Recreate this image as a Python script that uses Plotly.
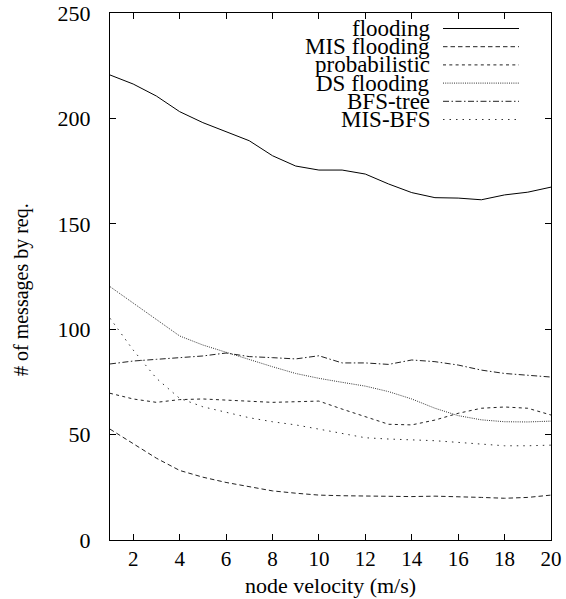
import plotly.graph_objects as go

velocity = list(range(1, 21))
flooding = [220.6, 216.3, 210.6, 203.2, 198.0, 193.7, 189.4, 182.3, 177.4, 175.5,
            175.5, 173.6, 168.9, 164.8, 162.4, 162.2, 161.4, 163.7, 165.0, 167.4]
mis_flooding = [52.6, 45.5, 38.8, 33.0, 29.8, 27.3, 25.2, 23.3, 22.2, 21.3,
                21.0, 20.8, 20.6, 20.6, 20.8, 20.6, 20.2, 19.8, 20.2, 21.3]
probabilistic = [69.6, 66.9, 65.3, 66.6, 66.9, 66.4, 65.9, 65.3, 65.6, 65.9,
                 62.1, 58.5, 54.9, 54.6, 56.9, 60.1, 62.5, 63.1, 62.5, 59.3]
ds_flooding = [120.2, 112.5, 104.5, 96.8, 92.5, 89.0, 85.5, 82.2, 79.0, 76.7,
               74.8, 73.0, 70.4, 66.9, 62.5, 59.0, 57.0, 56.1, 56.0, 56.4]
bfs_tree = [83.5, 84.9, 85.7, 86.5, 87.3, 88.7, 87.0, 86.5, 85.9, 87.4,
            84.0, 84.0, 83.3, 85.4, 84.6, 83.0, 80.6, 79.0, 78.0, 77.3]
mis_bfs = [105.2, 90.1, 76.7, 67.2, 63.2, 60.6, 58.0, 56.1, 54.6, 52.6,
           50.6, 48.5, 47.9, 47.6, 47.1, 46.3, 45.5, 44.7, 44.7, 45.0]

series_names = ["flooding", "MIS flooding", "probabilistic", "DS flooding", "BFS-tree", "MIS-BFS"]
series_values = [flooding, mis_flooding, probabilistic, ds_flooding, bfs_tree, mis_bfs]
x_ticks = [2, 4, 6, 8, 10, 12, 14, 16, 18, 20]
y_ticks = [0, 50, 100, 150, 200, 250]

dashes = ["solid", "4.5px,3px", "3px,3.3px", "1px,1.2px", "6px,2.5px,1.5px,2.5px", "1.5px,5px"]
colors = ["#000000", "#222222", "#222222", "#333333", "#222222", "#333333"]

FONT = "Liberation Serif, Times New Roman, serif"

fig = go.Figure()
for name, vals, dash, col in zip(series_names, series_values, dashes, colors):
    fig.add_trace(go.Scatter(x=velocity, y=vals, mode="lines", name=name,
                             line=dict(color=col, width=1, dash=dash),
                             showlegend=False))

# manual legend (gnuplot style): right-aligned text + line sample
L, R, T, B = 110, 551, 13, 540
W, H = R - L, B - T
row_y = [28.5, 46.7, 64.9, 83.1, 101.3, 119.5]
text_right = (432 - L) / W
s0, s1 = (443 - L) / W, (519 - L) / W
shapes = []
annotations = []
for name, dash, col, py in zip(series_names, dashes, colors, row_y):
    yp = 1 - (py - T) / H
    annotations.append(dict(x=text_right, y=yp, xref="paper", yref="paper",
                            text=name, showarrow=False, xanchor="right", yanchor="middle",
                            font=dict(family=FONT, size=23, color="black")))
    shapes.append(dict(type="line", xref="paper", yref="paper", x0=s0, x1=s1, y0=yp, y1=yp,
                       line=dict(color=col, width=1, dash=dash)))

annotations.append(dict(x=(21 - L) / W, y=1 - (290 - T) / H, xref="paper", yref="paper",
                        text="# of messages by req.", textangle=-90, showarrow=False,
                        xanchor="center", yanchor="middle",
                        font=dict(family=FONT, size=20, color="black")))
annotations.append(dict(x=(330 - L) / W, y=1 - (585 - T) / H, xref="paper", yref="paper",
                        text="node velocity (m/s)", showarrow=False,
                        xanchor="center", yanchor="middle",
                        font=dict(family=FONT, size=22, color="black")))

fig.update_layout(
    width=566, height=599,
    margin=dict(l=L, r=566 - R, t=T, b=599 - B, autoexpand=False),
    paper_bgcolor="white", plot_bgcolor="white",
    shapes=shapes, annotations=annotations,
    showlegend=False,
    xaxis=dict(range=[1, 20], tickvals=x_ticks, ticks="inside", ticklen=6, tickcolor="black",
               showline=True, linecolor="black", linewidth=1.2, mirror="ticks",
               showgrid=False, zeroline=False, ticklabelstandoff=0, automargin=False,
               tickfont=dict(family=FONT, size=21, color="black")),
    yaxis=dict(range=[0, 250], tickvals=y_ticks, ticks="inside", ticklen=6, tickcolor="black",
               showline=True, linecolor="black", linewidth=1.2, mirror="ticks",
               showgrid=False, zeroline=False, ticklabelstandoff=14, automargin=False,
               tickfont=dict(family=FONT, size=22, color="black")),
)

fig.write_html("out.html", config={"displayModeBar": False},
               post_script="document.body.style.margin='0px';document.body.style.padding='0px';")
